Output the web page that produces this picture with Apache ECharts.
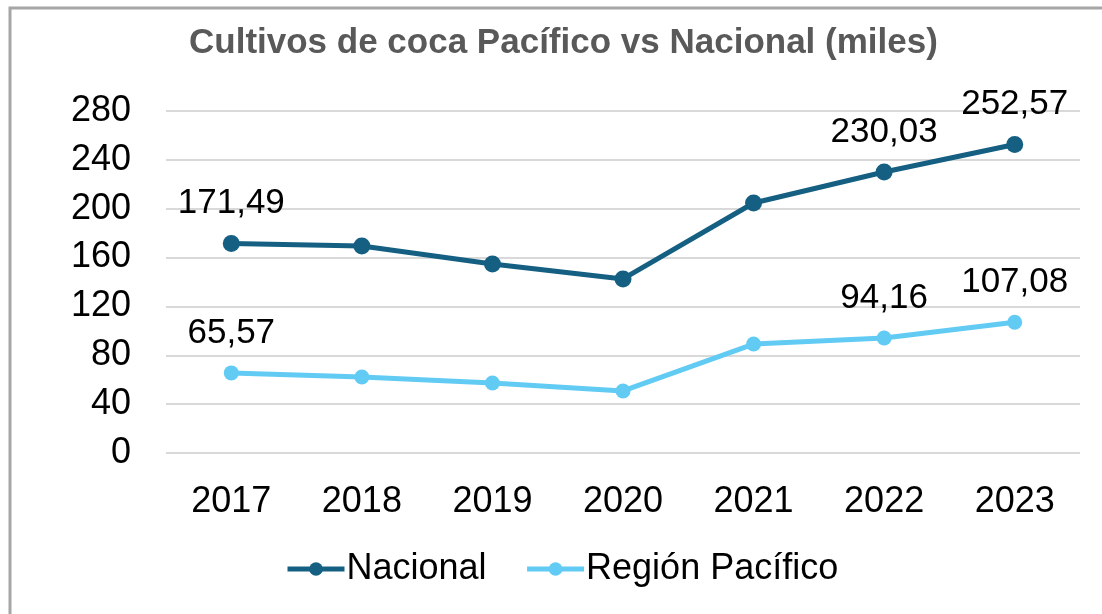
<!DOCTYPE html>
<html>
<head>
<meta charset="utf-8">
<script src="https://cdn.jsdelivr.net/npm/echarts@6/dist/echarts.min.js"></script>
<style>
    html, body { margin: 0; padding: 0; background: #ffffff; }
    #coca-chart { width: 1102px; height: 614px; }
</style>
</head>
<body>
<div id="coca-chart"></div>
<script>
var years = ['2017', '2018', '2019', '2020', '2021', '2022', '2023'];
var nacional = [171.49, 169.5, 154.7, 142.5, 204.7, 230.03, 252.57];
var pacifico = [65.57, 62.2, 57.3, 50.8, 89.2, 94.16, 107.08];
// only these points carry a label in the original
var labeledIdx = [0, 5, 6];
var yTicks = [0, 40, 80, 120, 160, 200, 240, 280];

var cocaChart = echarts.init(document.getElementById('coca-chart'));

function buildData(values) {
    var out = [];
    for (var i = 0; i < values.length; i++) {
        out.push({
            value: values[i],
            label: { show: labeledIdx.indexOf(i) >= 0 }
        });
    }
    return out;
}

function fmt(p) {
    return p.value.toFixed(2).replace('.', ',');
}

cocaChart.setOption({
    backgroundColor: '#ffffff',
    textStyle: { fontFamily: 'Liberation Sans, Arial, sans-serif' },
    graphic: [{
        type: 'rect',
        shape: { x: 10, y: 8, width: 1110, height: 640 },
        style: { fill: 'none', stroke: '#a6a6a6', lineWidth: 3 },
        z: -1
    }],
    title: {
        text: 'Cultivos de coca Pacífico vs Nacional (miles)',
        left: 184,
        top: 21,
        textStyle: { color: '#595959', fontSize: 35, fontWeight: 'bold' }
    },
    legend: {
        bottom: 22,
        left: 280,
        itemWidth: 57,
        itemHeight: 17,
        itemGap: 38,
        lineStyle: { width: 5 },
        textStyle: { color: '#000000', fontSize: 36, padding: [0, 0, 0, -3] },
        data: ['Nacional', 'Región Pacífico']
    },
    grid: {
        left: 166,
        right: 22,
        top: 111,
        bottom: 161
    },
    xAxis: {
        type: 'category',
        data: years,
        boundaryGap: true,
        axisLine: { show: false },
        axisTick: { show: false },
        axisLabel: { color: '#000000', fontSize: 36, margin: 31 }
    },
    yAxis: {
        type: 'value',
        min: yTicks[0],
        max: yTicks[yTicks.length - 1],
        interval: 40,
        axisLine: { show: false },
        axisTick: { show: false },
        axisLabel: { color: '#000000', fontSize: 36, margin: 35 },
        splitLine: { lineStyle: { color: '#d9d9d9', width: 2 } }
    },
    series: [{
        name: 'Nacional',
        type: 'line',
        data: buildData(nacional),
        symbol: 'circle',
        symbolSize: 17,
        color: '#156082',
        lineStyle: { width: 5, color: '#156082' },
        label: {
            position: 'top',
            distance: 14,
            color: '#000000',
            fontSize: 35,
            formatter: fmt
        }
    },
    {
        name: 'Región Pacífico',
        type: 'line',
        data: buildData(pacifico),
        symbol: 'circle',
        symbolSize: 15,
        color: '#62cbf3',
        lineStyle: { width: 5, color: '#62cbf3' },
        label: {
            position: 'top',
            distance: 15,
            color: '#000000',
            fontSize: 35,
            formatter: fmt
        }
    }]
});
</script>
</body>
</html>
